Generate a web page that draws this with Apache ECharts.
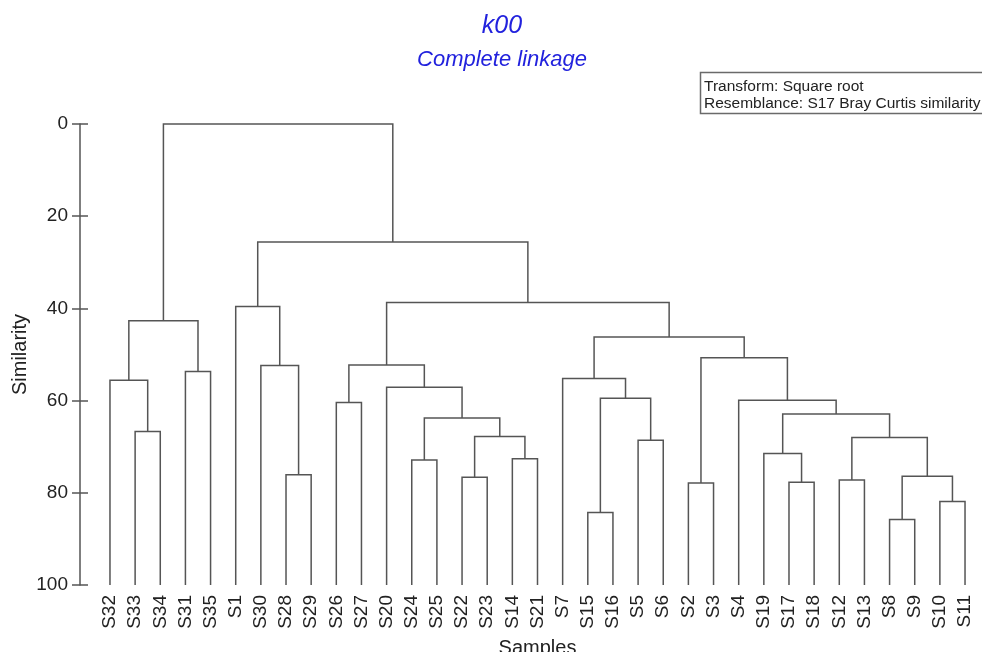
<!DOCTYPE html>
<html>
<head>
<meta charset="utf-8">
<script src="https://cdn.jsdelivr.net/npm/echarts@6/dist/echarts.min.js"></script>
<style>
  html, body { margin: 0; padding: 0; background: #fff; }
  #chart { width: 982px; height: 652px; }
</style>
</head>
<body>
<div id="chart"></div>
<script>
// Leaf order along the bottom of the dendrogram
const leaves = ['S32','S33','S34','S31','S35','S1','S30','S28','S29','S26','S27',
  'S20','S24','S25','S22','S23','S14','S21','S7','S15','S16','S5','S6','S2','S3',
  'S4','S19','S17','S18','S12','S13','S8','S9','S10','S11'];

// Cluster joins: [left child, right child, similarity at join]; join k is referred to as 'm' + k
const merges = [
  ['S33', 'S34', 66.7],  // m0
  ['S32', 'm0', 55.6],   // m1
  ['S31', 'S35', 53.7],  // m2
  ['m1', 'm2', 42.7],    // m3
  ['S28', 'S29', 76.1],  // m4
  ['S30', 'm4', 52.4],   // m5
  ['S1', 'm5', 39.6],    // m6
  ['S26', 'S27', 60.4],  // m7
  ['S24', 'S25', 72.9],  // m8
  ['S22', 'S23', 76.6],  // m9
  ['S14', 'S21', 72.6],  // m10
  ['m9', 'm10', 67.8],   // m11
  ['m8', 'm11', 63.8],   // m12
  ['S20', 'm12', 57.1],  // m13
  ['m7', 'm13', 52.3],   // m14
  ['S15', 'S16', 84.3],  // m15
  ['S5', 'S6', 68.6],    // m16
  ['m15', 'm16', 59.5],  // m17
  ['S7', 'm17', 55.2],   // m18
  ['S2', 'S3', 77.9],    // m19
  ['S17', 'S18', 77.7],  // m20
  ['S19', 'm20', 71.5],  // m21
  ['S12', 'S13', 77.2],  // m22
  ['S8', 'S9', 85.8],    // m23
  ['S10', 'S11', 81.9],  // m24
  ['m23', 'm24', 76.4],  // m25
  ['m22', 'm25', 68.0],  // m26
  ['m21', 'm26', 62.9],  // m27
  ['S4', 'm27', 59.9],   // m28
  ['m19', 'm28', 50.7],  // m29
  ['m18', 'm29', 46.2],  // m30
  ['m14', 'm30', 38.7],  // m31
  ['m6', 'm31', 25.6],   // m32
  ['m3', 'm32', 0]       // m33
];

const yTicks = [0, 20, 40, 60, 80, 100];
const leafLevel = 100;

// Node positions: leaves sit at their index, joins at the mean of their two children
const nodePos = {};
leaves.forEach((name, i) => { nodePos[name] = { x: i, h: leafLevel }; });
const segments = merges.map((m, k) => {
  const a = nodePos[m[0]], b = nodePos[m[1]];
  nodePos['m' + k] = { x: (a.x + b.x) / 2, h: m[2] };
  return [a.x, a.h, b.x, b.h, m[2]];
});

const lineColor = '#555555';
const textColor = '#222222';
const titleColor = '#2222dd';
const font = 'Liberation Sans, Arial, sans-serif';

const chart = echarts.init(document.getElementById('chart'));
chart.setOption({
  animation: false,
  backgroundColor: '#ffffff',
  grid: { left: 97.4, right: 4.4, top: 124, bottom: 67, containLabel: false, outerBoundsMode: 'none' },
  xAxis: [
    {
      type: 'category',
      data: leaves,
      boundaryGap: true,
      position: 'bottom',
      axisLine: { show: false },
      axisTick: { show: false },
      axisLabel: { rotate: 90, margin: 10, fontSize: 19, color: textColor, fontFamily: font, interval: 0 },
      name: 'Samples',
      nameLocation: 'middle',
      nameGap: 53,
      nameMoveOverlap: false,
      nameTextStyle: { fontSize: 20, color: textColor, fontFamily: font }
    },
    {
      type: 'value',
      min: -0.5,
      max: leaves.length - 0.5,
      show: false
    }
  ],
  yAxis: [
    {
      type: 'value',
      inverse: true,
      min: 0,
      max: 100,
      interval: 20,
      position: 'left',
      offset: 17.4,
      axisLine: { show: true, onZero: false, lineStyle: { color: lineColor, width: 1.5 } },
      axisTick: { show: true, length: 8, inside: false, lineStyle: { color: lineColor, width: 1.5 } },
      axisLabel: {
        margin: 12, fontSize: 19, color: textColor, fontFamily: font,
        formatter: v => (yTicks.indexOf(v) >= 0 ? String(v) : '')
      },
      splitLine: { show: false },
      name: 'Similarity',
      nameLocation: 'middle',
      nameGap: 50,
      nameRotate: 90,
      nameMoveOverlap: false,
      nameTextStyle: { fontSize: 20, color: textColor, fontFamily: font }
    },
    {
      type: 'value',
      inverse: true,
      min: 0,
      max: 100,
      interval: 20,
      position: 'left',
      offset: 17.4,
      axisLine: { show: false, onZero: false },
      axisTick: { show: true, length: 8, inside: true, lineStyle: { color: lineColor, width: 1.5 } },
      axisLabel: { show: false },
      splitLine: { show: false }
    }
  ],
  graphic: [
    {
      type: 'text', x: 502, y: 26,
      style: { text: 'k00', fontSize: 25, fontStyle: 'italic', fill: titleColor,
        fontFamily: font, align: 'center', verticalAlign: 'middle' }
    },
    {
      type: 'text', x: 502, y: 59.5,
      style: { text: 'Complete linkage', fontSize: 22, fontStyle: 'italic', fill: titleColor,
        fontFamily: font, align: 'center', verticalAlign: 'middle' }
    },
    {
      type: 'rect',
      shape: { x: 700.5, y: 72.5, width: 300, height: 41 },
      style: { fill: '#ffffff', stroke: '#6a6a6a', lineWidth: 1.5 }
    },
    {
      type: 'text', x: 704, y: 86.5,
      style: { text: 'Transform: Square root', fontSize: 15.5, fill: textColor,
        fontFamily: font, align: 'left', verticalAlign: 'middle' }
    },
    {
      type: 'text', x: 704, y: 104,
      style: { text: 'Resemblance: S17 Bray Curtis similarity', fontSize: 15.5, fill: textColor,
        fontFamily: font, align: 'left', verticalAlign: 'middle' }
    }
  ],
  series: [
    {
      type: 'custom',
      xAxisIndex: 1,
      yAxisIndex: 0,
      data: segments,
      encode: { x: [0, 2], y: [1, 3, 4] },
      renderItem: function (params, api) {
        const pA = api.coord([api.value(0), api.value(1)]);
        const pAj = api.coord([api.value(0), api.value(4)]);
        const pBj = api.coord([api.value(2), api.value(4)]);
        const pB = api.coord([api.value(2), api.value(3)]);
        return {
          type: 'polyline',
          shape: { points: [pA, pAj, pBj, pB] },
          style: { stroke: lineColor, lineWidth: 1.5, fill: null }
        };
      }
    }
  ]
});
</script>
</body>
</html>
